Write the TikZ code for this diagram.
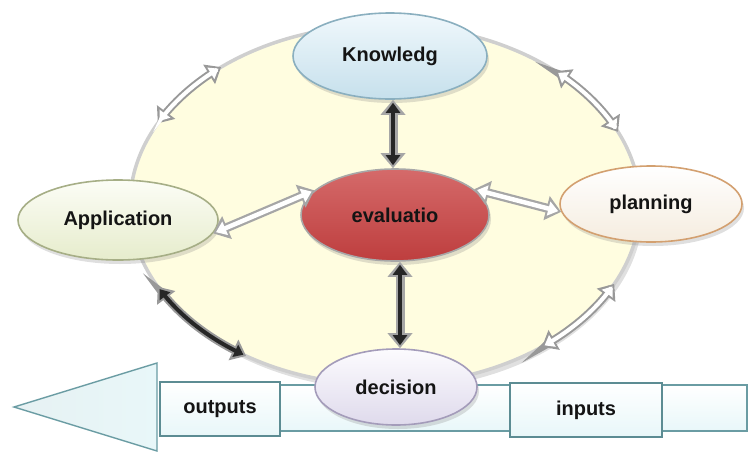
\documentclass[tikz,border=0pt]{standalone}
\usepackage{fontspec}
\setmainfont{Liberation Sans}
\usetikzlibrary{shapes.geometric,arrows.meta,shadows}
\definecolor{bgyellow}{HTML}{FFFDE0}
\definecolor{ringgray}{HTML}{CFCFCF}
\definecolor{knowtop}{HTML}{F0F8FC}
\definecolor{knowbot}{HTML}{C6E0EC}
\definecolor{knowrim}{HTML}{8AAFBF}
\definecolor{evaltop}{HTML}{D56A6A}
\definecolor{evalbot}{HTML}{BE3E3E}
\definecolor{evalrim}{HTML}{A8A8A8}
\definecolor{apptop}{HTML}{FCFDF6}
\definecolor{appbot}{HTML}{E6ECCC}
\definecolor{apprim}{HTML}{A6AE86}
\definecolor{plantop}{HTML}{FFFFFF}
\definecolor{planbot}{HTML}{F5ECDF}
\definecolor{planrim}{HTML}{D3A070}
\definecolor{dectop}{HTML}{FCFBFE}
\definecolor{decbot}{HTML}{DFDAEC}
\definecolor{decrim}{HTML}{A49CBA}
\definecolor{arrfill}{HTML}{E8F7F9}
\definecolor{arrrim}{HTML}{6A9CA3}
\definecolor{boxrim}{HTML}{5C8C93}
\definecolor{txt}{HTML}{141414}
\begin{document}
\begin{tikzpicture}[x=1pt,y=-1pt,
  lbl/.style={font=\fontsize{20}{24}\selectfont\bfseries, text=txt},
  bubble/.style={ellipse, draw, line width=1.6pt, inner sep=0pt, lbl,
     drop shadow={shadow xshift=2pt, shadow yshift=-4pt, opacity=0.25}},
  iobox/.style={draw=boxrim, line width=1.4pt, top color=white, bottom color=arrfill,
     minimum width=#1, minimum height=54pt, inner sep=0pt, lbl},
  outerarr/.style={line width=9pt, draw=black!35,
     {Triangle[length=15pt,width=24pt]}-{Triangle[length=15pt,width=24pt]}},
  innerdark/.style={line width=4.5pt, draw=black!85, shorten <=3pt, shorten >=3pt,
     {Triangle[length=10pt,width=14pt]}-{Triangle[length=10pt,width=14pt]}},
  innerlight/.style={line width=4.5pt, draw=white, shorten <=3pt, shorten >=3pt,
     {Triangle[length=10pt,width=14pt]}-{Triangle[length=10pt,width=14pt]}},
  ringarrout/.style={line width=8pt, draw=black!40,
     {Triangle[length=14pt,width=22pt]}-{Triangle[length=14pt,width=22pt]}},
  ringarrin/.style={line width=4pt, draw=white, shorten <=3pt, shorten >=3pt,
     {Triangle[length=9pt,width=13pt]}-{Triangle[length=9pt,width=13pt]}},
  ringarrdark/.style={line width=4pt, draw=black!85, shorten <=3pt, shorten >=3pt,
     {Triangle[length=9pt,width=13pt]}-{Triangle[length=9pt,width=13pt]}}
]
\useasboundingbox (0,0) rectangle (752,453);

% big background ellipse
\fill[black!12] (388,210) ellipse [x radius=255, y radius=180];
\draw[ringgray, line width=3.5pt, fill=bgyellow] (385,205) ellipse [x radius=255, y radius=180];

% circular arrows along the ring
\draw[ringarrout] plot[smooth, domain=153:130, samples=12] ({385+255*cos(\x)},{205-180*sin(\x)});
\draw[ringarrin]  plot[smooth, domain=153:130, samples=12] ({385+255*cos(\x)},{205-180*sin(\x)});
\draw[ringarrout] plot[smooth, domain=48:24, samples=12] ({385+255*cos(\x)},{205-180*sin(\x)});
\draw[ringarrin]  plot[smooth, domain=48:24, samples=12] ({385+255*cos(\x)},{205-180*sin(\x)});
\draw[ringarrout] plot[smooth, domain=207:237, samples=12] ({385+255*cos(\x)},{205-180*sin(\x)});
\draw[ringarrdark] plot[smooth, domain=207:237, samples=12] ({385+255*cos(\x)},{205-180*sin(\x)});
\draw[ringarrout] plot[smooth, domain=-52:-26, samples=12] ({385+255*cos(\x)},{205-180*sin(\x)});
\draw[ringarrin]  plot[smooth, domain=-52:-26, samples=12] ({385+255*cos(\x)},{205-180*sin(\x)});

% bottom big arrow
\draw[arrrim, line width=1.4pt, top color=white, bottom color=arrfill]
  (160,385) rectangle (747,431);
\draw[arrrim, line width=1.4pt, left color=arrfill!70!arrrim!40, right color=arrfill]
  (157,363) -- (14,407) -- (157,451) -- cycle;
\node[iobox=120pt] (out) at (220,409) {outputs};
\node[iobox=152pt] (in) at (586,410) {inputs};

% nodes
\node[bubble, draw=knowrim, top color=knowtop, bottom color=knowbot,
      minimum width=194pt, minimum height=86pt] (know) at (390,56) {Knowledg};
\node[bubble, draw=evalrim, top color=evaltop, bottom color=evalbot,
      minimum width=188pt, minimum height=92pt] (eval) at (395,215) {evaluatio};
\node[bubble, draw=apprim, top color=apptop, bottom color=appbot,
      minimum width=200pt, minimum height=80pt] (app) at (118,220) {Application};
\node[bubble, draw=planrim, top color=plantop, bottom color=planbot,
      minimum width=182pt, minimum height=76pt] (plan) at (651,204) {planning};
\node[bubble, draw=decrim, top color=dectop, bottom color=decbot,
      minimum width=162pt, minimum height=76pt] (dec) at (396,387) {decision};

% connectors
\draw[outerarr] ([xshift=3pt]know.south) -- ([xshift=-2pt]eval.north);
\draw[innerdark] ([xshift=3pt]know.south) -- ([xshift=-2pt]eval.north);
\draw[outerarr] ([xshift=5pt]eval.south) -- ([xshift=4pt]dec.north);
\draw[innerdark] ([xshift=5pt]eval.south) -- ([xshift=4pt]dec.north);
\draw[outerarr] (app.-8) -- (eval.163);
\draw[innerlight] (app.-8) -- (eval.163);
\draw[outerarr] (eval.18) -- (plan.185);
\draw[innerlight] (eval.18) -- (plan.185);
\end{tikzpicture}
\end{document}
